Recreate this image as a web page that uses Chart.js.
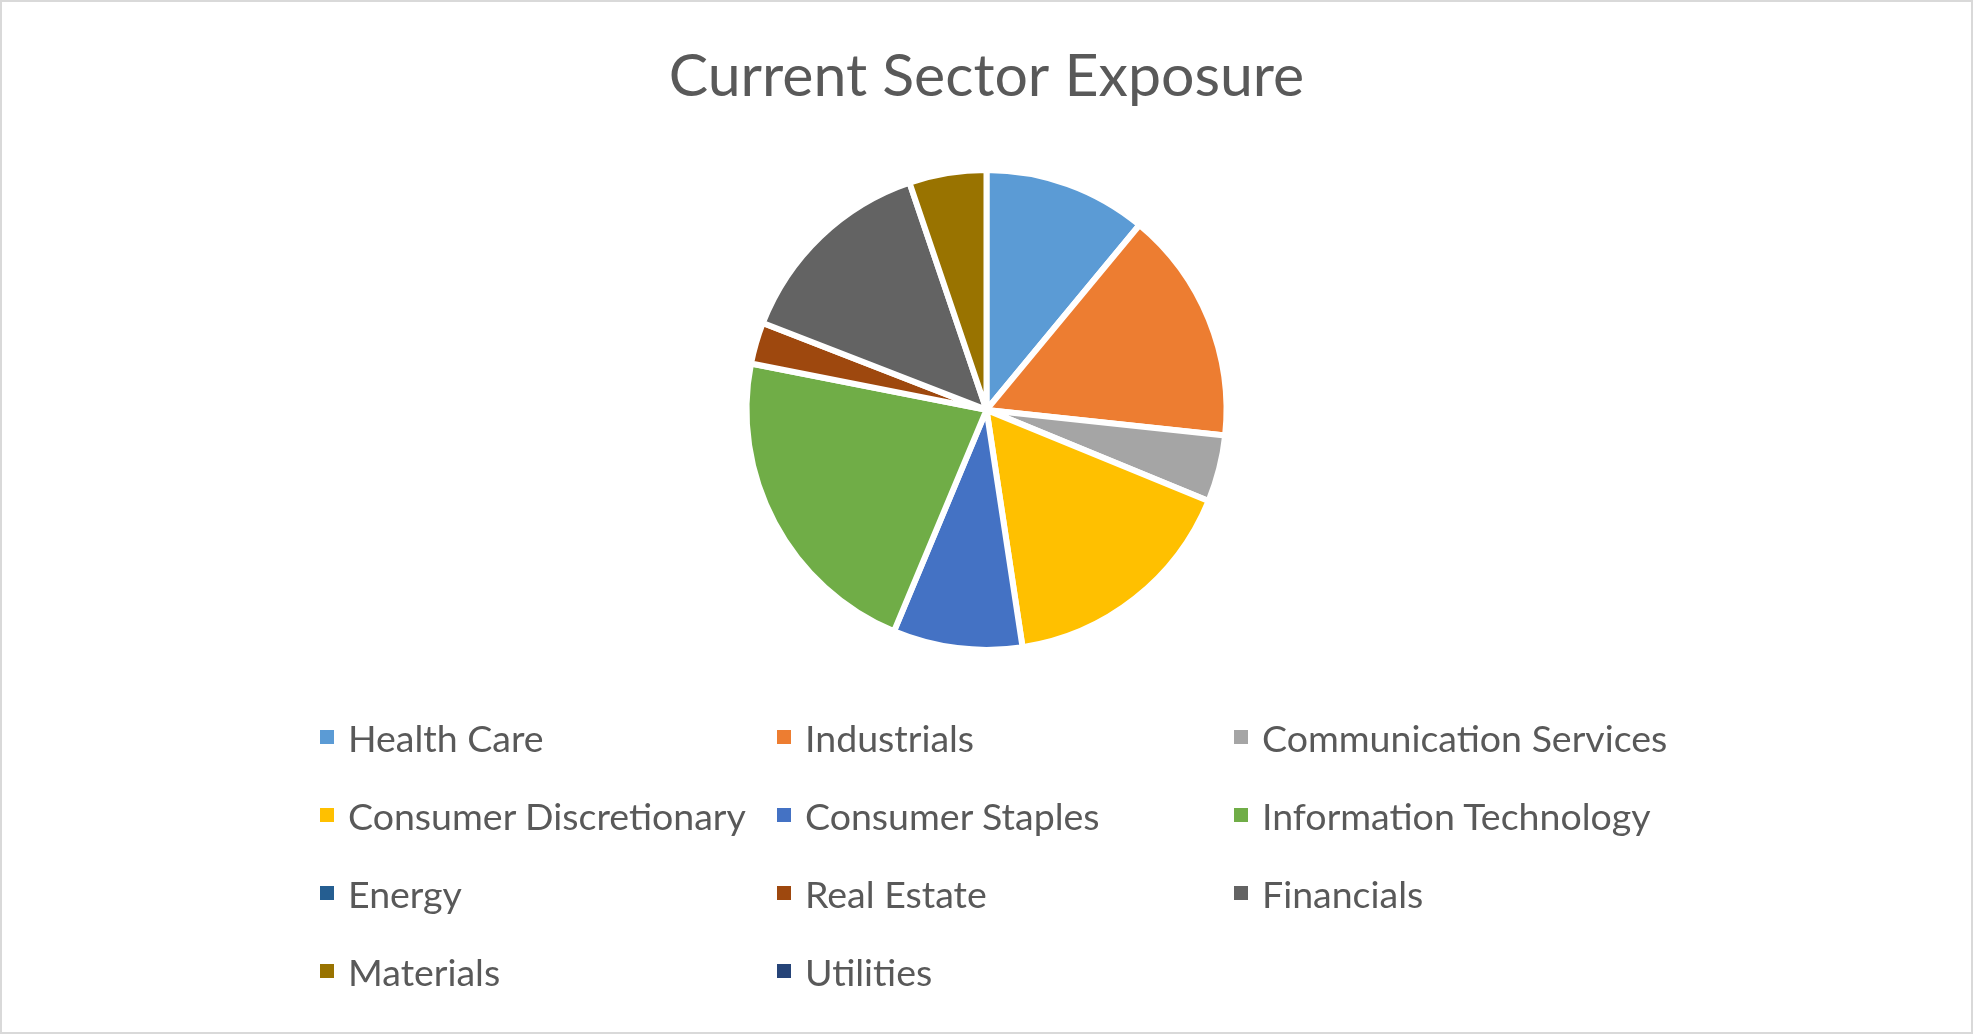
<!DOCTYPE html>
<html>
<head>
<meta charset="utf-8">
<title>Current Sector Exposure</title>
<script src="https://cdn.jsdelivr.net/npm/chart.js@4.4.0/dist/chart.umd.min.js"></script>
<style>
  html, body { margin: 0; padding: 0; background: #fff; }
  .frame {
    position: relative;
    width: 1973px;
    height: 1034px;
    box-sizing: border-box;
    border: 2px solid #d9d9d9;
    overflow: hidden;
  }
  #sectorChart { position: absolute; left: 0; top: 0; }
  #legend {
    position: absolute;
    left: 318px;
    top: 696px;
    display: grid;
    grid-template-columns: repeat(3, 457px);
    grid-auto-rows: 78px;
    font-family: Lato, 'Open Sans', sans-serif;
    font-size: 37.5px;
    color: #595959;
  }
  .legend-item { display: flex; align-items: center; white-space: nowrap; }
  .legend-box { width: 14px; height: 14px; margin-right: 14px; flex: none; }
</style>
</head>
<body>
<div class="frame">
  <canvas id="sectorChart" width="1969" height="1030"></canvas>
  <div id="legend"></div>
</div>
<script>
// Chart data
const sectors = [
  'Health Care', 'Industrials', 'Communication Services',
  'Consumer Discretionary', 'Consumer Staples', 'Information Technology',
  'Energy', 'Real Estate', 'Financials',
  'Materials', 'Utilities'
];
const exposure = [11.0, 15.7, 4.5, 16.4, 8.7, 21.8, 0, 2.8, 13.9, 5.2, 0];
const sectorColors = [
  '#5B9BD5', '#ED7D31', '#A5A5A5',
  '#FFC000', '#4472C4', '#70AD47',
  '#255E91', '#9E480E', '#636363',
  '#997300', '#264478'
];

// Legend drawn as html grid (3 columns like the original)
const htmlLegend = {
  id: 'htmlLegend',
  afterUpdate(chart) {
    const box = document.getElementById('legend');
    box.innerHTML = '';
    const items = chart.options.plugins.legend.labels.generateLabels(chart);
    items.forEach(item => {
      const div = document.createElement('div');
      div.className = 'legend-item';
      const sw = document.createElement('span');
      sw.className = 'legend-box';
      sw.style.background = item.fillStyle;
      const txt = document.createElement('span');
      txt.textContent = item.text;
      div.appendChild(sw);
      div.appendChild(txt);
      box.appendChild(div);
    });
  }
};

function drawChart() {
  const ctx = document.getElementById('sectorChart').getContext('2d');
  new Chart(ctx, {
    type: 'pie',
    data: {
      labels: sectors,
      datasets: [{
        data: exposure,
        backgroundColor: sectorColors,
        borderColor: '#ffffff',
        borderWidth: 6,
        hoverOffset: 0
      }]
    },
    options: {
      responsive: false,
      animation: false,
      devicePixelRatio: 1,
      radius: 240,
      layout: {
        padding: { top: 0, bottom: 325, left: 0, right: 0 }
      },
      plugins: {
        legend: { display: false },
        tooltip: { enabled: false },
        title: {
          display: true,
          text: 'Current Sector Exposure',
          color: '#595959',
          font: { family: 'Lato', size: 59, weight: 'normal' },
          padding: { top: 40, bottom: 0 }
        }
      }
    },
    plugins: [htmlLegend]
  });
}

if (document.fonts && document.fonts.load) {
  document.fonts.load('59px Lato').then(drawChart, drawChart);
} else {
  drawChart();
}
</script>
</body>
</html>
